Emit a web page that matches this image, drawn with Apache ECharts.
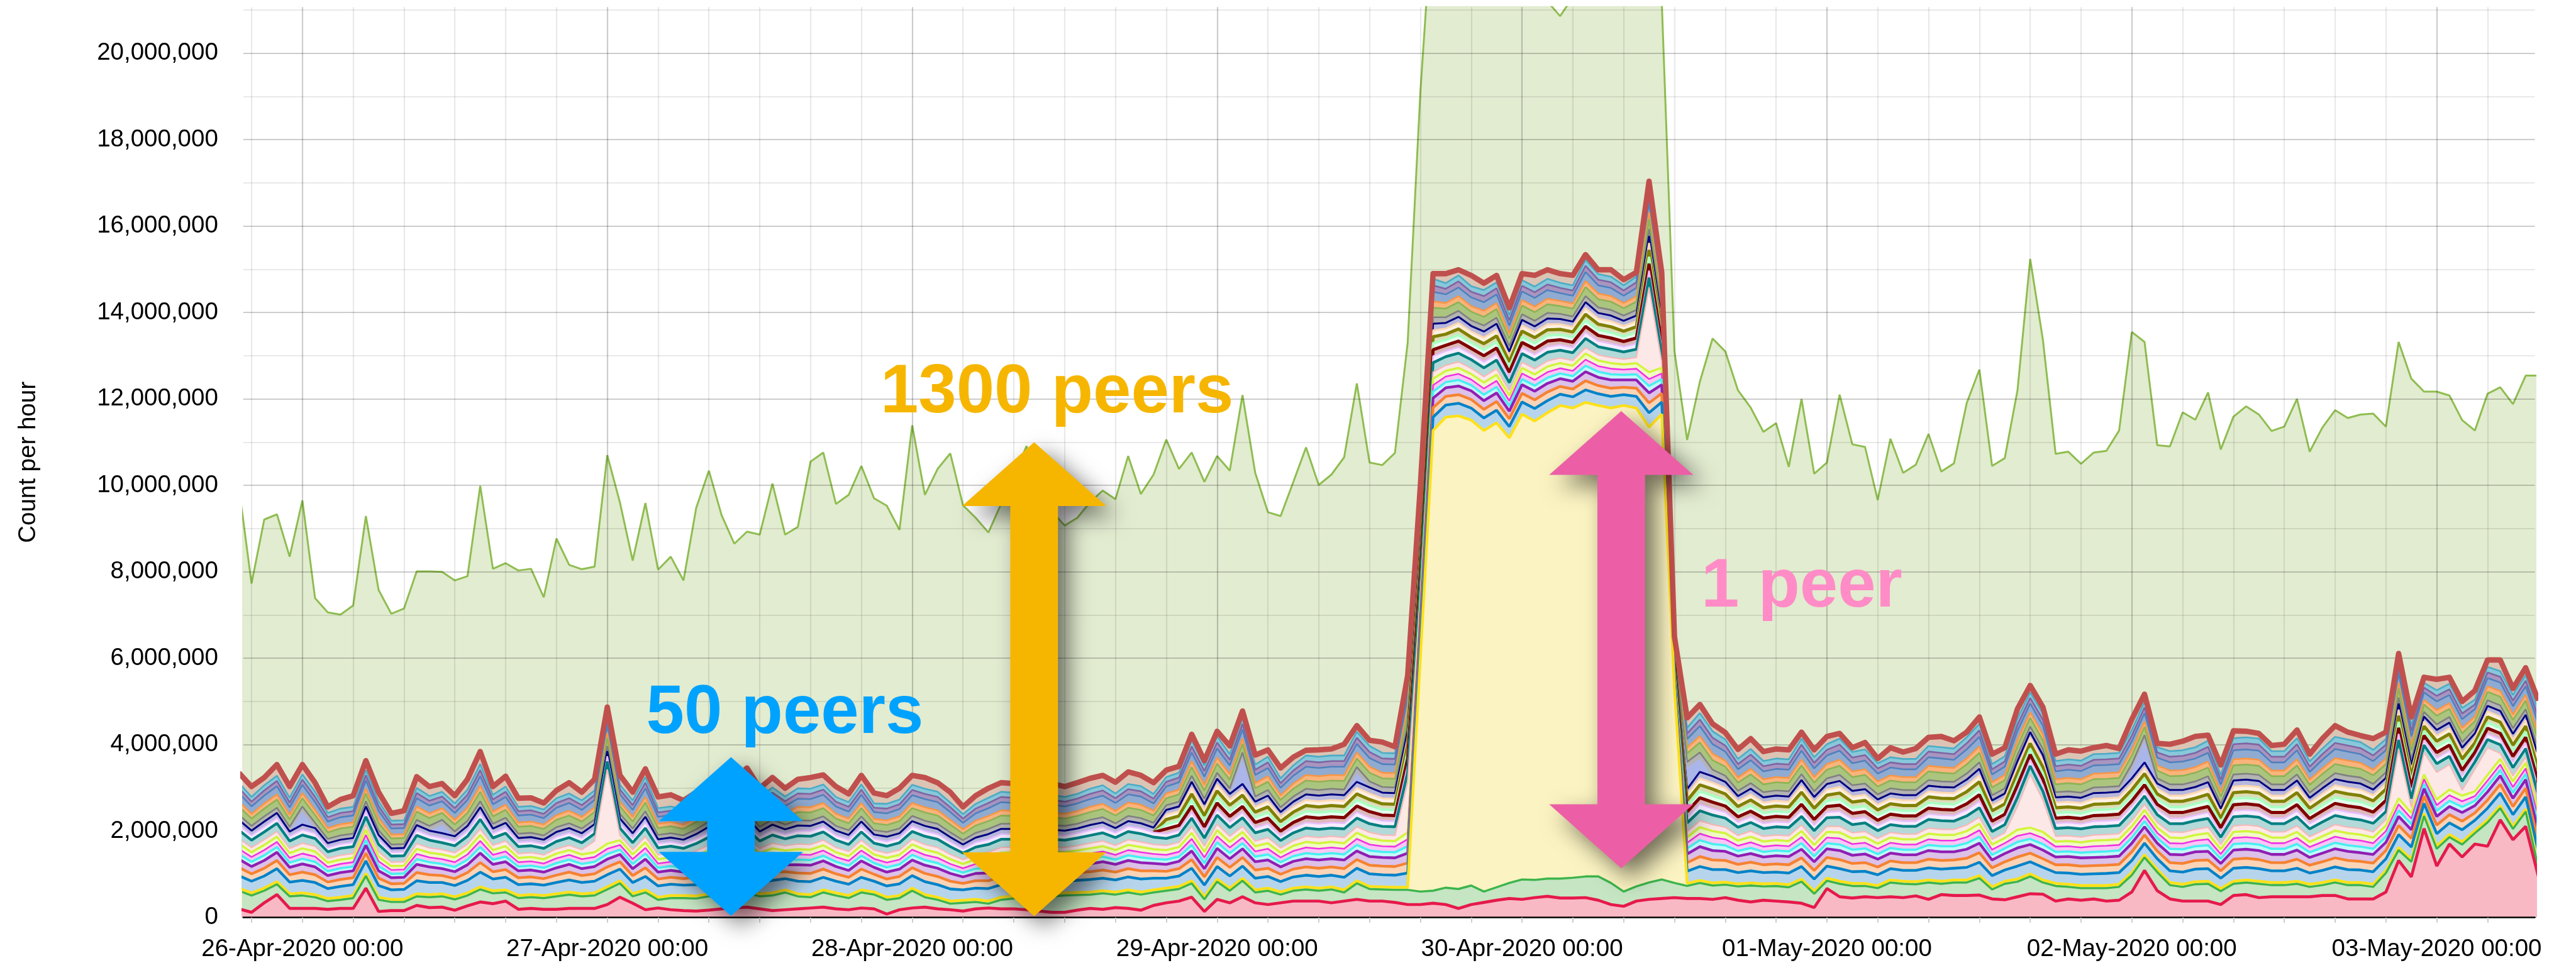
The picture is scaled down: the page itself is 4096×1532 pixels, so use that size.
<!DOCTYPE html>
<html>
<head>
<meta charset="utf-8">
<title>Count per hour</title>
<script src="https://cdn.jsdelivr.net/npm/echarts@6.0.0/dist/echarts.min.js"></script>
<style>
html,body{margin:0;padding:0;background:#ffffff;}
#chart{width:4096px;height:1532px;}
</style>
</head>
<body>
<div id="chart"></div>
<script>
// ================= DATA =================
// One sample per hour. First sample = 25-Apr-2020 19:00.
// x values are hours counted from 26-Apr-2020 00:00.
const firstSampleHour = -5;
const UNIT = 10000;            // every array below is in units of 10,000 counts per hour

// light-green background total
const totalGreen = [
 997,773,921,933,835,965,739,706,701,722,
 929,758,703,715,801,801,800,780,790,999,
 807,820,803,807,741,877,816,806,812,1070,
 960,826,959,805,835,780,948,1034,931,865,
 893,886,1004,886,904,1055,1076,957,978,1045,
 970,953,897,1139,978,1038,1074,954,925,891,
 957,1020,1091,1000,940,907,925,961,988,968,
 1068,980,1025,1106,1038,1076,1008,1068,1034,1209,
 1029,938,929,1008,1088,1001,1025,1065,1236,1053,
 1047,1075,1330,1910,2350,2400,2400,2400,2400,2400,
 2400,2400,2400,2120,2086,2130,2400,2400,2400,2400,
 2400,2400,2120,1310,1105,1240,1340,1310,1220,1180,
 1124,1144,1043,1200,1027,1053,1210,1095,1089,966,
 1108,1029,1048,1119,1032,1051,1190,1268,1045,1063,
 1220,1524,1337,1073,1078,1050,1076,1080,1127,1355,
 1332,1093,1090,1169,1152,1215,1083,1159,1183,1164,
 1126,1136,1200,1078,1134,1174,1156,1164,1166,1136,
 1332,1247,1217,1217,1208,1151,1127,1212,1227,1188,
 1254,1254];

// top of the stacked peers (thick red line)
const stackTop = [
 335,303,324,354,303,354,312,256,273,282,
 363,290,241,247,326,303,310,282,320,384,
 303,327,276,277,265,294,312,290,320,487,
 329,290,344,279,284,271,290,315,300,320,
 346,299,324,299,320,324,330,303,286,329,
 288,282,299,329,324,312,290,256,282,299,
 312,310,320,315,310,303,312,322,329,313,
 337,329,312,341,350,424,363,431,397,478,
 376,388,346,371,387,388,390,401,444,410,
 406,395,560,1000,1490,1490,1499,1486,1468,1486,
 1411,1490,1486,1499,1490,1486,1534,1499,1499,1476,
 1493,1704,1493,650,462,493,448,428,389,414,
 384,390,388,429,388,419,426,393,405,368,
 393,383,391,417,419,409,429,464,378,393,
 483,537,487,378,388,385,393,398,391,459,
 517,403,401,408,419,422,353,432,431,426,
 398,401,434,378,414,444,429,421,414,429,
 611,464,556,551,556,500,525,596,596,530,
 578,502];

// level of the crimson line (bottom peer)
const pinkLine = [
 20,12,34,53,21,21,21,19,21,21,
 68,14,16,16,28,23,24,17,27,36,
 32,38,19,21,19,19,21,21,21,30,
 47,33,18,22,18,16,15,17,20,22,
 24,20,16,18,20,22,24,20,18,22,
 20,8,18,22,24,20,18,15,20,22,
 20,20,18,15,12,12,17,21,19,23,
 21,17,28,34,38,47,14,42,34,48,
 34,30,34,38,38,38,34,38,42,38,
 38,35,30,30,33,30,21,30,35,40,
 44,42,46,49,45,45,46,40,30,26,
 38,42,44,46,44,44,42,46,40,36,
 40,38,36,33,23,67,48,45,48,46,
 48,46,50,42,53,51,51,52,43,41,
 48,55,54,38,43,40,43,38,40,59,
 109,62,43,38,38,38,30,51,53,46,
 48,48,48,48,51,51,43,43,43,59,
 132,94,206,119,170,140,170,165,226,180,
 211,95];

// level of the yellow line (third peer)
const yellowLine = [
 68,57,68,83,55,57,53,44,47,51,
 102,47,42,42,55,53,55,48,57,71,
 62,64,51,53,51,55,59,55,57,71,
 85,55,64,47,51,51,50,55,52,56,
 62,55,57,64,55,53,64,57,51,64,
 59,47,51,68,53,47,38,40,42,38,
 47,50,52,50,55,57,58,59,62,59,
 64,59,64,68,72,85,48,89,68,91,
 64,68,59,68,71,68,71,64,85,72,
 71,70,70,600,1127,1158,1161,1151,1127,1145,
 1110,1165,1149,1168,1185,1179,1192,1185,1179,1185,
 1179,1135,1165,530,79,86,80,82,78,80,
 78,79,76,89,61,91,84,79,79,74,
 87,84,83,87,84,87,87,97,71,84,
 89,101,87,79,77,74,74,74,77,104,
 145,111,81,77,83,84,67,84,87,84,
 81,81,84,77,81,87,81,81,77,109,
 162,135,241,165,192,175,201,226,259,211,
 251,121];

// thickness of the yellow (light-yellow fill) peer
const yellowBand = [
 6,6,6,6,6,6,6,6,6,6, 6,6,6,6,6,6,6,6,6,6,
 6,6,6,6,6,6,6,6,6,6, 6,6,6,6,6,6,6,6,6,6,
 6,6,6,6,6,6,6,6,6,6, 6,6,6,6,6,6,6,6,6,6,
 6,6,6,6,6,6,6,6,6,6, 6,6,6,6,6,6,6,6,6,6,
 6,6,6,6,6,6,6,6,6,6, 6,6,6,540,1065,1089,1095,1077,1067,1075,
 1030,1077,1062,1078,1095,1087,1097,1090,1099,1125,
 1107,1054,1077,450,6,6,6,6,6,6,
 6,6,6,6,6,6,6,6,6,6, 6,6,6,6,6,6,6,6,6,6,
 6,6,6,6,6,6,6,6,6,6, 6,6,6,6,6,6,6,6,6,6,
 6,6,6,6,6,6,6,6,6,6, 6,6,6,6,6,6,6,6,6,6,
 6,6];

// estimated thickness of the other peers (wide / medium / thin stripes)
const wideBand = [
 29,27,28,30,27,29,28,23,25,25,
 29,27,22,23,30,28,26,26,29,34,
 27,29,25,25,24,26,28,26,27,28,
 27,26,31,26,26,24,26,29,27,29,
 31,27,29,26,29,30,29,27,26,29,
 25,26,27,29,30,29,28,24,26,29,
 29,29,29,29,28,27,28,29,29,28,
 30,30,27,23,24,29,27,29,28,28,
 27,27,24,26,27,27,27,29,29,29,
 28,28,33,34,31,28,29,28,29,29,
 26,28,29,28,26,26,29,27,27,25,
 27,33,28,10,28,32,31,29,26,28,
 26,26,27,29,28,28,29,27,28,25,
 26,25,26,28,28,27,29,31,26,26,
 30,28,29,25,26,26,27,28,27,28,
 27,25,27,28,29,29,24,30,29,29,
 27,27,30,26,28,30,30,29,29,27,
 30,28,23,29,27,28,24,27,29,27,
 28,32];

const mediumBand = [
 19,17,18,19,17,19,18,15,16,16,
 18,17,14,14,19,18,16,16,18,22,
 17,18,16,16,15,17,18,16,17,18,
 17,16,20,16,16,15,17,18,17,18,
 20,17,19,16,19,19,19,17,16,19,
 16,16,17,18,19,19,18,15,17,18,
 19,18,19,19,18,17,18,18,19,18,
 19,19,17,16,17,20,19,21,20,20,
 19,19,17,18,19,19,19,20,20,20,
 20,20,23,24,22,20,20,20,20,20,
 18,20,20,20,18,18,21,19,19,17,
 19,23,20,7,20,23,22,21,19,20,
 18,19,19,20,20,20,21,19,20,18,
 18,18,18,20,20,19,21,22,18,19,
 21,20,20,18,19,19,19,19,19,20,
 19,18,19,20,20,20,17,21,21,21,
 19,19,21,18,20,21,21,20,20,19,
 21,20,17,20,19,20,17,19,20,19,
 20,23];

const thinBand = [
 12,11,12,12,11,12,12,10,10,10,
 12,11,9,9,12,11,11,11,12,14,
 11,12,10,10,10,11,11,11,11,12,
 11,11,13,10,10,10,11,12,11,12,
 13,11,12,11,12,12,12,11,11,12,
 10,11,11,12,12,12,11,10,11,12,
 12,12,12,12,11,11,11,12,12,11,
 12,12,11,11,11,14,13,14,13,13,
 12,13,11,12,13,13,13,13,14,14,
 13,13,16,16,15,13,14,13,14,14,
 12,13,13,13,12,12,14,13,13,12,
 13,16,13,5,13,15,15,14,12,13,
 12,12,12,14,13,13,14,13,13,12,
 12,12,12,13,13,13,14,15,12,12,
 14,13,14,12,12,12,13,13,13,13,
 13,12,13,13,13,14,11,14,14,14,
 13,13,14,12,13,14,14,14,13,13,
 14,13,11,13,13,13,11,13,13,13,
 13,15];

// peers that only appear from 28-Apr evening on
const newPeers = [
 null,null,null,null,null,null,null,null,null,null,
 null,null,null,null,null,null,null,null,null,null,
 null,null,null,null,null,null,null,null,null,null,
 null,null,null,null,null,null,null,null,null,null,
 null,null,null,null,null,null,null,null,null,null,
 null,null,null,null,null,null,null,null,null,null,
 null,null,null,null,null,null,null,null,null,null,
 null,null,0,11,11,14,13,14,13,13,
 12,13,11,12,13,13,13,13,14,14,
 13,13,16,16,15,13,14,13,14,14,
 12,13,13,13,12,12,14,13,13,12,
 13,16,13,5,13,15,15,14,12,13,
 12,12,12,14,13,13,14,13,13,12,
 12,12,12,13,13,13,14,15,12,12,
 14,13,14,12,12,12,13,13,13,13,
 13,12,13,13,13,14,11,14,14,14,
 13,13,14,12,13,14,14,14,13,13,
 14,13,11,13,13,13,11,13,13,13,
 13,15];

// pale pink peer with its spikes
const palePink = [
 12,11,12,12,11,12,12,10,10,10,
 12,11,9,9,12,11,11,11,12,14,
 11,12,10,10,10,11,11,11,26,172,
 11,11,13,10,10,10,11,12,11,12,
 13,11,12,11,12,12,12,11,11,12,
 10,11,11,12,12,12,11,10,11,12,
 12,12,12,12,11,11,11,12,12,11,
 12,12,11,11,11,14,13,14,13,13,
 12,13,11,12,13,13,13,13,14,14,
 13,13,116,16,15,13,14,13,14,14,
 12,13,13,13,12,12,14,13,13,12,
 13,196,13,5,13,15,15,14,12,13,
 12,12,12,14,13,13,14,13,13,12,
 12,12,12,13,13,13,14,15,12,12,
 54,123,74,12,12,12,13,13,13,13,
 13,12,13,13,13,14,11,14,14,14,
 13,13,14,12,13,14,14,14,13,13,
 114,13,51,63,58,13,51,63,13,13,
 13,15];

// periwinkle peer (only visible in spikes)
const periSpikes = [
 0,0,0,0,0,30,0,0,0,0, 0,0,0,0,0,0,20,0,0,0,
 0,0,0,0,0,0,0,0,0,0, 0,0,0,0,0,0,0,0,0,0,
 0,0,0,0,0,0,0,0,0,0, 0,0,0,0,0,0,0,0,0,0,
 0,0,0,0,0,0,0,0,0,0, 0,0,0,0,0,0,0,0,0,60,
 0,0,0,0,0,0,0,0,20,0, 0,0,0,0,0,0,0,0,0,0,
 0,0,0,0,0,0,0,0,0,0, 0,0,0,0,50,30,0,0,0,0,
 0,0,0,0,0,0,0,0,0,0, 0,0,0,0,0,0,0,0,0,0,
 0,0,0,0,0,0,0,0,0,20, 50,0,0,0,0,0,0,0,0,0,
 0,0,0,0,0,0,0,0,0,0, 0,0,0,0,0,0,0,0,0,0,
 0,0];

// axis ticks / labels
const dayHours = [0, 24, 48, 72, 96, 120, 144, 168];
const dayLabels = ['26-Apr-2020 00:00','27-Apr-2020 00:00','28-Apr-2020 00:00','29-Apr-2020 00:00',
                   '30-Apr-2020 00:00','01-May-2020 00:00','02-May-2020 00:00','03-May-2020 00:00'];
const yTicks = [0,2000000,4000000,6000000,8000000,10000000,12000000,14000000,16000000,18000000,20000000];
const yMinor = [1000000,3000000,5000000,7000000,9000000,11000000,13000000,15000000,17000000,19000000,21000000];
const gridHours = [-4,0,4,8,12,16,20,24,28,32,36,40,44,48,52,56,60,64,68,72,76,80,84,88,92,96,100,104,108,112,
                   116,120,124,128,132,136,140,144,148,152,156,160,164,168,172];

// annotations (data coordinates: hours, counts)
const arrowNotes = [
  {hour: 33.74, from: 40000,  to: 3710000,  color: '#00a2ff'},
  {hour: 57.60, from: 30000,  to: 11000000, color: '#f6b600'},
  {hour: 103.81, from: 1140000, to: 11720000, color: '#ec5fa6'}
];
const textNotes = [
  {hour: 27.07, value: 4148000,  text: '50 peers',   color: '#00a2ff'},
  {hour: 45.50, value: 11570000, text: '1300 peers', color: '#f6b600'},
  {hour: 110.1, value: 7084000,  text: '1 peer',     color: '#ff8cc6'}
];

// ================= CHART =================
const S = 4096 / 4754;
const FONT = "'Liberation Sans', Arial, Helvetica, sans-serif";
const N = stackTop.length;
const xs = stackTop.map((_, i) => firstSampleHour + i);
const toPairs = arr => arr.map((v, i) => [xs[i], v == null ? null : v * UNIT]);

const greenLayer = yellowLine.map((v, i) => v - yellowBand[i] - pinkLine[i]);

const layers = [
  {d: pinkLine,   line: '#e6194b', fill: '#f8b9c5', w: 4.7},
  {d: greenLayer, line: '#3cb44b', fill: '#c5e5c3', w: 3.4},
  {d: yellowBand, line: '#ffe119', fill: '#fbf3c1', w: 4.3},
  {d: wideBand,   line: '#0082c8', fill: '#b6d5ec', w: 4.3},
  {d: mediumBand, line: '#f58231', fill: '#fbd4b8', w: 4.3},
  {d: mediumBand, line: '#911eb4', fill: '#dcc1e8', w: 4.3},
  {d: thinBand,   line: '#46f0f0', fill: '#c4f9f9', w: 3.5},
  {d: thinBand,   line: '#f032e6', fill: '#f9c6f5', w: 2.6},
  {d: thinBand,   line: '#d2f53c', fill: '#f0fcc4', w: 3.5},
  {d: palePink,   line: '#f7b8b8', fill: '#fde8e8', w: 2.2},
  {d: mediumBand, line: '#008080', fill: '#b3d9d9', w: 4.3},
  {d: thinBand,   line: '#e6beff', fill: '#f6ebff', w: 2.6},
  {d: newPeers,   line: '#800000', fill: '#dcb8b8', w: 5.0},
  {d: newPeers,   line: '#aaffc3', fill: '#e6ffed', w: 4.0},
  {d: newPeers,   line: '#808000', fill: '#ddddb8', w: 5.0},
  {d: newPeers,   line: '#ffd8b1', fill: '#fff1e3', w: 3.0},
  {d: thinBand,   line: '#000080', fill: '#b8b8dc', w: 3.0},
  {d: periSpikes, line: '#aab5ea', fill: '#aab5ea', w: 0},
  {d: thinBand,   line: '#808080', fill: '#b4b4b4', w: 2.6},
  {d: mediumBand, line: '#8db356', fill: '#abc57f', w: 2.6},
  {d: thinBand,   line: '#f79646', fill: '#f9b47c', w: 2.6},
  {d: mediumBand, line: '#4f81bd', fill: '#90abd1', w: 2.6},
  {d: thinBand,   line: '#8064a2', fill: '#a895c0', w: 2.6},
  {d: thinBand,   line: '#4bacc6', fill: '#88c8da', w: 2.6}
];

// cumulative boundaries of the stack (each peer sits on the ones below it)
const running = new Array(N).fill(0);
const boundaries = layers.map(L => L.d.map((v, i) => {
  if (v == null) return null;
  running[i] += v;
  return running[i];
}));

const series = [];
series.push({
  type: 'line', name: 'total', data: toPairs(totalGreen), z: 1, silent: true,
  symbol: 'none', showSymbol: false,
  lineStyle: {color: '#8fbd50', width: 3},
  areaStyle: {color: 'rgba(150,187,85,0.4)', origin: 'start'},
  emphasis: {disabled: true}
});
// topmost peers: fill between the dense stripes and the red top line
series.push({
  type: 'line', data: toPairs(stackTop), z: 10, silent: true,
  symbol: 'none', showSymbol: false,
  lineStyle: {width: 0, opacity: 0},
  areaStyle: {color: '#dcc4b4', opacity: 1, origin: 'start'},
  emphasis: {disabled: true}
});
layers.forEach((L, k) => {
  series.push({
    type: 'line', data: toPairs(boundaries[k]), z: 60 - k, silent: true,
    symbol: 'none', showSymbol: false, connectNulls: false,
    lineStyle: {color: L.line, width: L.w, opacity: L.w > 0 ? 1 : 0},
    areaStyle: {color: L.fill, opacity: 1, origin: 'start'},
    emphasis: {disabled: true}
  });
});
// the red top line itself, drawn above the stripes
series.push({
  type: 'line', data: toPairs(stackTop), z: 70, silent: true,
  symbol: 'none', showSymbol: false,
  lineStyle: {color: '#c0504d', width: 8.6, join: 'round'},
  emphasis: {disabled: true}
});

// grid lines (drawn on top, translucent)
const gridLines = [];
gridHours.forEach(h => gridLines.push({xAxis: h, lineStyle: {color: h % 24 === 0 ? 'rgba(0,0,0,0.2)' : 'rgba(0,0,0,0.085)', width: 2.2, type: 'solid'}}));
yTicks.forEach(v => { if (v > 0) gridLines.push({yAxis: v, lineStyle: {color: 'rgba(0,0,0,0.2)', width: 2.2, type: 'solid'}}); });
yMinor.forEach(v => gridLines.push({yAxis: v, lineStyle: {color: 'rgba(0,0,0,0.085)', width: 2.2, type: 'solid'}}));
series.push({
  type: 'line', data: [[-100, -1e9]], z: 80, silent: true, symbol: 'none',
  lineStyle: {opacity: 0},
  markLine: {silent: true, animation: false, symbol: ['none', 'none'], label: {show: false},
             lineStyle: {type: 'solid'}, emphasis: {disabled: true}, data: gridLines}
});

const fmtNum = v => String(Math.round(v)).replace(/\B(?=(\d{3})+(?!\d))/g, ',');

const option = {
  animation: false,
  backgroundColor: '#ffffff',
  grid: {left: 449 * S, right: 4754 * S - 4678 * S, top: 13 * S, bottom: (1778 - 1694) * S, containLabel: false},
  xAxis: {
    type: 'value', min: -4.649, max: 175.72, z: 90,
    axisLine: {show: true, onZero: false, lineStyle: {color: '#000000', width: 2.6}},
    axisTick: {show: true, customValues: gridHours, length: 8, lineStyle: {color: '#cccccc', width: 2}},
    axisLabel: {customValues: dayHours, formatter: v => dayLabels[dayHours.indexOf(v)] || '',
                fontSize: 38.5, color: '#000000', margin: 31, fontFamily: FONT},
    splitLine: {show: false}
  },
  yAxis: {
    type: 'value', min: 0, max: 21070000,
    name: 'Count per hour', nameLocation: 'middle', nameRotate: 90, nameGap: 322,
    nameTextStyle: {fontSize: 38.5, color: '#000000', fontFamily: FONT},
    axisLine: {show: false}, axisTick: {show: false}, splitLine: {show: false},
    axisLabel: {customValues: yTicks, formatter: fmtNum, fontSize: 38.5, color: '#000000', margin: 40, fontFamily: FONT}
  },
  series: series
};

const chart = echarts.init(document.getElementById('chart'), null, {renderer: 'canvas', width: 4096, height: 1532});
chart.setOption(option);

// annotations placed through the chart's own scales
const HEAD_HALF = 133 * S, HEAD_LEN = 118 * S, SHAFT_HALF = 44 * S, TEXT_SIZE = 126 * S;
const toPx = (h, v) => chart.convertToPixel({xAxisIndex: 0, yAxisIndex: 0}, [h, v]);
const elements = [];
arrowNotes.forEach(a => {
  const top = toPx(a.hour, a.to), bot = toPx(a.hour, a.from);
  const cx = top[0], yT = top[1], yB = bot[1];
  const pts = [[cx, yT], [cx + HEAD_HALF, yT + HEAD_LEN], [cx + SHAFT_HALF, yT + HEAD_LEN],
               [cx + SHAFT_HALF, yB - HEAD_LEN], [cx + HEAD_HALF, yB - HEAD_LEN], [cx, yB],
               [cx - HEAD_HALF, yB - HEAD_LEN], [cx - SHAFT_HALF, yB - HEAD_LEN],
               [cx - SHAFT_HALF, yT + HEAD_LEN], [cx - HEAD_HALF, yT + HEAD_LEN]];
  elements.push({type: 'polygon', z: 200, silent: true, shape: {points: pts},
    style: {fill: a.color, shadowBlur: 36, shadowColor: 'rgba(0,0,0,0.55)', shadowOffsetX: 16, shadowOffsetY: 16}});
});
textNotes.forEach(t => {
  const p = toPx(t.hour, t.value);
  elements.push({type: 'text', z: 210, silent: true, x: p[0], y: p[1] - 0.35 * TEXT_SIZE,
    style: {text: t.text, fill: t.color, font: 'bold ' + TEXT_SIZE.toFixed(1) + 'px ' + FONT,
            align: 'left', verticalAlign: 'middle', textAlign: 'left', textVerticalAlign: 'middle'}});
});
chart.setOption({graphic: {elements: elements}});
</script>
</body>
</html>
